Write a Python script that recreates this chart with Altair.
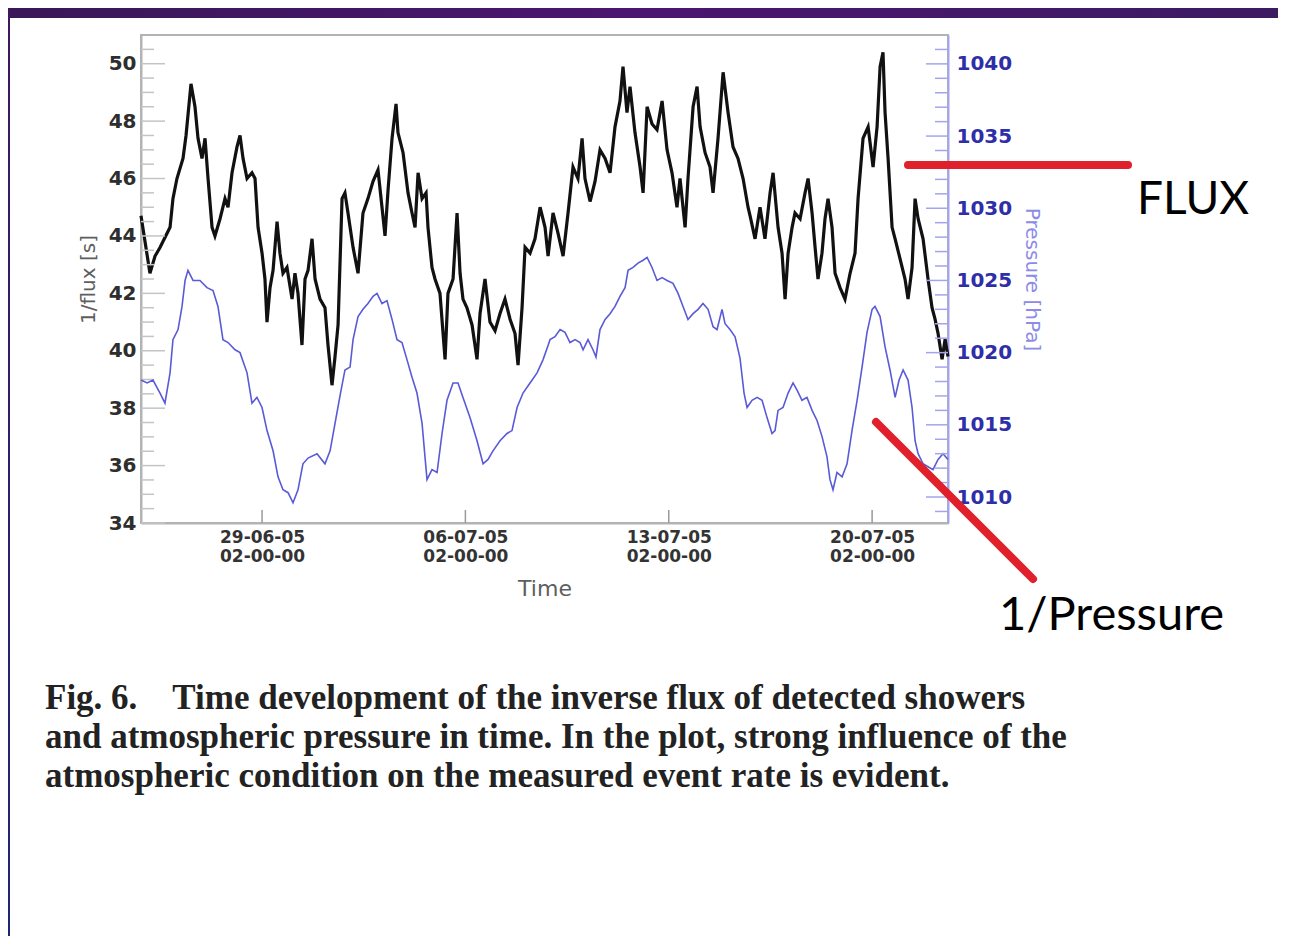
import altair as alt
import pandas as pd

# ---------------- data ----------------
START = pd.Timestamp("2005-06-24 22:00:00")   # left edge of the time axis

# hours after START / inverse flux [s]
flux_hours = [
    0.0, 7.4, 11.6, 15.7, 24.0, 26.4, 29.7, 34.7, 37.2, 41.3,
    44.6, 47.1, 50.4, 52.9, 55.4, 58.7, 61.1, 65.3, 69.4, 71.9,
    75.2, 79.3, 81.8, 84.3, 87.6, 91.7, 94.2, 96.7, 100.0, 102.4,
    104.1, 106.6, 109.1, 112.4, 114.8, 117.3, 120.6, 124.8, 127.2, 129.7,
    133.0, 135.5, 138.0, 141.3, 143.8, 147.9, 152.0, 154.5, 157.8, 160.3,
    162.8, 166.1, 168.5, 171.0, 175.2, 179.3, 183.4, 187.5, 191.7, 195.8,
    199.1, 201.6, 204.1, 207.4, 210.7, 212.3, 216.5, 220.6, 223.9, 226.4,
    228.9, 232.2, 235.5, 237.1, 240.4, 242.9, 247.0, 251.2, 253.6, 257.8,
    261.1, 263.6, 266.0, 269.3, 273.5, 277.6, 280.1, 284.2, 288.3, 292.5,
    296.6, 300.7, 304.9, 309.0, 311.5, 314.8, 317.3, 321.4, 325.5, 329.7,
    333.8, 336.3, 340.4, 344.5, 348.7, 352.8, 356.9, 361.0, 364.4, 366.8,
    371.0, 375.1, 379.2, 383.4, 387.5, 391.6, 395.7, 398.2, 401.5, 404.0,
    408.1, 412.3, 414.8, 418.1, 422.2, 426.3, 430.5, 434.6, 438.7, 442.8,
    445.3, 449.5, 451.9, 456.1, 459.4, 461.9, 466.0, 470.1, 472.6, 476.7,
    480.9, 485.0, 489.1, 493.2, 497.4, 501.5, 503.2, 507.3, 511.4, 515.5,
    519.7, 522.2, 526.3, 529.6, 532.1, 534.6, 537.9, 540.3, 544.5, 548.6,
    551.1, 554.4, 556.9, 559.3, 562.6, 565.1, 567.6, 570.9, 573.4, 577.5,
    581.6, 585.8, 589.9, 592.4, 596.5, 600.7, 604.8, 608.1, 610.6, 613.0,
    614.7, 617.2, 620.5, 623.0, 627.1, 631.2, 633.7, 637.0, 639.5, 642.0,
    646.1, 650.2, 653.5, 656.0, 658.5, 661.8, 664.3, 666.7,
]
flux_values = [
    44.7, 42.7, 43.3, 43.6, 44.3, 45.3, 46.0, 46.7, 47.5, 49.3,
    48.5, 47.4, 46.7, 47.4, 46.0, 44.3, 44.0, 44.6, 45.3, 45.0,
    46.2, 47.1, 47.5, 46.7, 46.0, 46.2, 46.0, 44.3, 43.4, 42.5,
    41.0, 42.2, 42.8, 44.5, 43.4, 42.7, 42.9, 41.8, 42.7, 42.0,
    40.2, 42.5, 42.8, 43.9, 42.5, 41.8, 41.5, 40.2, 38.8, 39.8,
    40.9, 45.3, 45.5, 44.8, 43.6, 42.7, 44.8, 45.3, 45.9, 46.3,
    45.0, 44.0, 45.6, 47.4, 48.6, 47.6, 46.9, 45.5, 44.8, 44.3,
    46.2, 45.3, 45.5, 44.3, 42.9, 42.5, 42.0, 39.7, 42.0, 42.5,
    44.8, 42.7, 41.8, 41.5, 40.9, 39.7, 41.3, 42.5, 41.0, 40.7,
    41.3, 41.8, 41.1, 40.6, 39.5, 41.5, 43.6, 43.4, 43.9, 45.0,
    44.3, 43.3, 44.8, 44.1, 43.3, 44.8, 46.4, 46.0, 47.4, 46.0,
    45.2, 45.9, 47.0, 46.7, 46.2, 47.8, 48.7, 49.9, 48.3, 49.2,
    47.6, 46.4, 45.5, 48.5, 47.9, 47.7, 48.7, 47.0, 46.2, 45.0,
    46.0, 44.3, 46.0, 48.5, 49.2, 47.8, 46.9, 46.4, 45.5, 47.4,
    49.7, 48.3, 47.1, 46.7, 46.0, 45.0, 44.7, 43.9, 45.0, 43.9,
    45.5, 46.2, 44.3, 43.4, 41.8, 43.4, 44.3, 44.8, 44.6, 45.5,
    46.0, 44.8, 43.6, 42.5, 43.4, 44.6, 45.3, 44.3, 42.7, 42.2,
    41.8, 42.7, 43.4, 45.3, 47.4, 47.8, 46.4, 47.8, 49.9, 50.4,
    48.3, 46.7, 44.3, 43.9, 43.2, 42.5, 41.8, 42.9, 45.3, 44.6,
    43.9, 42.5, 41.5, 41.1, 40.6, 39.7, 40.4, 39.8,
]

# hours after START / pressure [hPa]
pres_hours = [
    0.0, 5.0, 9.9, 15.7, 19.8, 24.0, 26.4, 30.6, 33.9, 36.4,
    38.8, 43.0, 48.7, 54.5, 59.5, 63.6, 67.7, 71.9, 77.7, 81.8,
    87.6, 91.7, 95.8, 100.0, 104.1, 109.1, 113.2, 117.3, 121.5, 125.6,
    129.7, 133.8, 138.0, 145.4, 152.0, 156.2, 160.3, 164.4, 168.5, 172.7,
    175.2, 179.3, 183.4, 187.5, 191.7, 195.0, 199.1, 203.2, 207.4, 211.5,
    215.6, 219.8, 223.9, 228.0, 232.2, 234.6, 236.3, 240.4, 244.6, 248.7,
    252.8, 257.8, 261.9, 266.0, 271.8, 277.6, 282.6, 286.7, 290.8, 296.6,
    302.4, 306.5, 310.7, 315.6, 321.4, 327.2, 332.1, 336.3, 337.9, 342.0,
    346.2, 350.3, 354.4, 358.6, 362.7, 365.2, 369.3, 373.4, 375.9, 379.2,
    383.4, 387.5, 391.6, 395.7, 399.9, 402.4, 406.5, 410.6, 414.8, 418.1,
    422.2, 426.3, 430.5, 434.6, 439.5, 443.7, 447.8, 451.9, 456.1, 460.2,
    464.3, 468.5, 472.6, 475.9, 480.0, 482.5, 486.6, 490.8, 494.9, 498.2,
    500.7, 504.8, 509.0, 513.1, 517.2, 521.3, 523.8, 526.3, 530.4, 534.6,
    538.7, 542.0, 546.1, 550.2, 554.4, 558.5, 562.6, 566.7, 569.2, 571.7,
    575.0, 579.2, 583.3, 587.4, 591.6, 595.7, 599.8, 604.0, 606.4, 610.6,
    614.7, 618.8, 623.0, 626.3, 629.6, 633.7, 637.0, 639.5, 642.0, 646.1,
    650.2, 654.3, 658.5, 662.6, 666.7,
]
pres_values = [
    1018.1, 1017.9, 1018.1, 1017.2, 1016.5, 1018.6, 1020.9, 1021.6, 1023.2, 1025.0,
    1025.7, 1025.0, 1025.0, 1024.5, 1024.3, 1023.2, 1020.9, 1020.7, 1020.2, 1020.0,
    1018.6, 1016.5, 1016.9, 1016.2, 1014.6, 1013.2, 1011.4, 1010.5, 1010.3, 1009.6,
    1010.5, 1012.3, 1012.7, 1013.0, 1012.3, 1013.2, 1015.1, 1017.0, 1018.8, 1019.0,
    1020.9, 1022.5, 1023.0, 1023.4, 1023.9, 1024.1, 1023.4, 1023.6, 1022.3, 1020.9,
    1020.7, 1019.5, 1018.3, 1017.2, 1015.1, 1012.8, 1011.2, 1011.9, 1011.7, 1014.4,
    1016.7, 1017.9, 1017.9, 1016.9, 1015.5, 1013.9, 1012.3, 1012.6, 1013.2, 1013.9,
    1014.4, 1014.6, 1016.2, 1017.2, 1017.9, 1018.6, 1019.5, 1020.5, 1020.9, 1021.1,
    1021.6, 1021.4, 1020.7, 1020.9, 1020.7, 1020.2, 1020.9, 1020.2, 1019.7, 1021.6,
    1022.3, 1022.7, 1023.2, 1023.9, 1024.5, 1025.7, 1025.9, 1026.2, 1026.4, 1026.6,
    1025.9, 1025.0, 1025.2, 1025.0, 1024.8, 1024.1, 1023.2, 1022.3, 1022.7, 1023.0,
    1023.4, 1023.0, 1021.8, 1021.6, 1023.0, 1022.0, 1021.6, 1021.1, 1019.6, 1017.2,
    1016.2, 1016.7, 1016.9, 1016.7, 1015.5, 1014.4, 1014.6, 1016.0, 1016.2, 1017.2,
    1017.9, 1017.4, 1016.7, 1016.9, 1016.0, 1015.3, 1014.2, 1012.8, 1011.2, 1010.5,
    1011.7, 1011.4, 1012.3, 1014.6, 1016.7, 1019.0, 1021.4, 1023.0, 1023.2, 1022.5,
    1020.4, 1018.8, 1016.9, 1018.1, 1018.8, 1018.1, 1016.2, 1013.9, 1013.0, 1012.3,
    1012.1, 1011.9, 1012.6, 1013.0, 1012.6,
]

# axis ticks / labels
x_tick_dates = ["2005-06-29 02:00", "2005-07-06 02:00", "2005-07-13 02:00", "2005-07-20 02:00"]
left_major = [34, 36, 38, 40, 42, 44, 46, 48, 50]
left_minor = [34.5, 35, 35.5, 36.5, 37, 37.5, 38.5, 39, 39.5, 40.5, 41, 41.5, 42.5, 43, 43.5,
              44.5, 45, 45.5, 46.5, 47, 47.5, 48.5, 49, 49.5, 50.5]
right_major = [1010, 1015, 1020, 1025, 1030, 1035, 1040]
right_minor = [1009, 1011, 1012, 1013, 1014, 1016, 1017, 1018, 1019, 1021, 1022, 1023, 1024,
               1026, 1027, 1028, 1029, 1031, 1032, 1033, 1034, 1036, 1037, 1038, 1039, 1041]

caption = ("Fig. 6.\u00a0\u00a0\u00a0\u00a0Time development of the inverse flux of detected showers\n"
           "and atmospheric pressure in time. In the plot, strong influence of the\n"
           "atmospheric condition on the measured event rate is evident.")

# ---------------- build chart ----------------
flux_df = pd.DataFrame({"time": START + pd.to_timedelta(flux_hours, unit="h"), "flux": flux_values})
pres_df = pd.DataFrame({"time": START + pd.to_timedelta(pres_hours, unit="h"), "pressure": pres_values})
xt = [pd.Timestamp(s) for s in x_tick_dates]
xtick_df = pd.DataFrame({"time": xt})
one = pd.DataFrame({"a": [0]})

W, H = 807, 488
PAD = {"left": 133, "top": 27, "right": 330, "bottom": 413}

def dt(t):
    return alt.DateTime(year=t.year, month=t.month, date=t.day, hours=t.hour, minutes=t.minute)

x_scale = alt.Scale(domain=[dt(START), dt(START + pd.Timedelta(hours=666.7))])
flux_scale = alt.Scale(domain=[34, 51], nice=False, zero=False)
pres_scale = alt.Scale(domain=[1008.2, 1042], nice=False, zero=False)

x_axis = alt.Axis(
    values=[dt(t) for t in xt],
    labelExpr="[timeFormat(datum.value, '%d-%m-%y'), timeFormat(datum.value, '%H-%M-%S')]",
    labelFont="DejaVu Sans", labelFontWeight="bold", labelFontSize=17, labelColor="#333333",
    labelLineHeight=19, labelPadding=6, labelFlush=False, labelOverlap=False,
    ticks=False, domainColor="#b3b3b3", domainWidth=2, grid=False,
    title="Time", titleFont="DejaVu Sans", titleFontSize=22, titleFontWeight="normal",
    titleColor="#5e5e5e", titlePadding=14,
)
left_axis = alt.Axis(
    orient="left", values=left_major, format="d",
    labelFont="DejaVu Sans", labelFontWeight="bold", labelFontSize=20, labelColor="#2e2e2e",
    labelPadding=5, labelFlush=False, labelOverlap=False,
    ticks=False, domainColor="#b3b3b3", domainWidth=2, grid=False,
    title="1/flux [s]", titleFont="DejaVu Sans", titleFontSize=20, titleFontWeight="normal",
    titleColor="#5e5e5e", titlePadding=10,
)
right_axis = alt.Axis(
    orient="right", values=right_major, format="d",
    labelFont="DejaVu Sans", labelFontWeight="bold", labelFontSize=20, labelColor="#2e2ea8",
    labelPadding=8, labelFlush=False, labelOverlap=False,
    ticks=False, domainColor="#a4a4ee", domainWidth=2, grid=False,
    title="Pressure [hPa]", titleFont="DejaVu Sans", titleFontSize=20, titleFontWeight="normal",
    titleColor="#8c8ce8", titlePadding=10,
)

X = alt.X("time:T", scale=x_scale, axis=x_axis)

flux_line = alt.Chart(flux_df).mark_line(color="#111111", strokeWidth=3.2).encode(
    x=X, y=alt.Y("flux:Q", scale=flux_scale, axis=left_axis),
)
flux_major = alt.Chart(pd.DataFrame({"flux": left_major})).mark_rule(color="#c4c4c4", strokeWidth=1.5).encode(
    y=alt.Y("flux:Q", scale=flux_scale, axis=left_axis), x=alt.value(0), x2=alt.value(24))
flux_minor = alt.Chart(pd.DataFrame({"flux": left_minor})).mark_rule(color="#c4c4c4", strokeWidth=1.5).encode(
    y=alt.Y("flux:Q", scale=flux_scale, axis=left_axis), x=alt.value(0), x2=alt.value(13))
x_ticks = alt.Chart(xtick_df).mark_rule(color="#999999", strokeWidth=1.5).encode(
    x=X, y=alt.value(H), y2=alt.value(H - 13))

flux_group = alt.layer(flux_line, flux_minor, flux_major, x_ticks)

pres_line = alt.Chart(pres_df).mark_line(color="#5a5ad8", strokeWidth=1.6).encode(
    x=X, y=alt.Y("pressure:Q", scale=pres_scale, axis=right_axis),
)
pres_major = alt.Chart(pd.DataFrame({"pressure": right_major})).mark_rule(color="#a4a4ee", strokeWidth=1.5).encode(
    y=alt.Y("pressure:Q", scale=pres_scale, axis=right_axis), x=alt.value(W), x2=alt.value(W - 22))
pres_minor = alt.Chart(pd.DataFrame({"pressure": right_minor})).mark_rule(color="#a4a4ee", strokeWidth=1.5).encode(
    y=alt.Y("pressure:Q", scale=pres_scale, axis=right_axis), x=alt.value(W), x2=alt.value(W - 13))

pres_group = alt.layer(pres_line, pres_minor, pres_major)

# slide frame strips
top_strip = alt.Chart(one).mark_rect(
    color=alt.LinearGradient(gradient="linear",
                             stops=[alt.GradientStop(color="#3a1757", offset=0),
                                    alt.GradientStop(color="#4b1670", offset=0.5),
                                    alt.GradientStop(color="#3d1a62", offset=1)],
                             x1=0, x2=1, y1=0, y2=0)
).encode(x=alt.value(-133), x2=alt.value(1137), y=alt.value(-27), y2=alt.value(-17))
left_strip = alt.Chart(one).mark_rect(
    color=alt.LinearGradient(gradient="linear",
                             stops=[alt.GradientStop(color="#3e1763", offset=0),
                                    alt.GradientStop(color="#1e2670", offset=1)],
                             x1=0, x2=0, y1=0, y2=1)
).encode(x=alt.value(-133), x2=alt.value(-131), y=alt.value(-27), y2=alt.value(901))

# red annotation strokes and labels
flux_mark = alt.Chart(one).mark_rule(color="#e0202a", strokeWidth=8, strokeCap="round").encode(
    x=alt.value(767), x2=alt.value(987), y=alt.value(130), y2=alt.value(130))
pres_mark = alt.Chart(one).mark_rule(color="#e0202a", strokeWidth=8, strokeCap="round").encode(
    x=alt.value(735), x2=alt.value(892), y=alt.value(387), y2=alt.value(544))
flux_text = alt.Chart(one).mark_text(text="FLUX", font="Lato", fontSize=46, align="left",
                                     baseline="alphabetic", color="#000000").encode(
    x=alt.value(996), y=alt.value(179))
pres_text = alt.Chart(one).mark_text(text="1/Pressure", font="Lato", fontSize=47, align="left",
                                     baseline="alphabetic", color="#000000").encode(
    x=alt.value(858), y=alt.value(595))
caption_text = alt.Chart(one).mark_text(text=caption, lineBreak="\n", lineHeight=39,
                                        font="Liberation Serif", fontSize=35, fontWeight="bold",
                                        color="#222222", align="left", baseline="alphabetic").encode(
    x=alt.value(-96), y=alt.value(674))

chart = alt.layer(
    top_strip, left_strip, flux_group, pres_group,
    flux_mark, pres_mark, flux_text, pres_text, caption_text,
).resolve_scale(y="independent").properties(
    width=W, height=H, padding=PAD, autosize=alt.AutoSizeParams(type="none"), background="white",
).configure_view(stroke="#b3b3b3", strokeWidth=2)

chart.save("out.html", embed_options={"renderer": "svg", "actions": False})
